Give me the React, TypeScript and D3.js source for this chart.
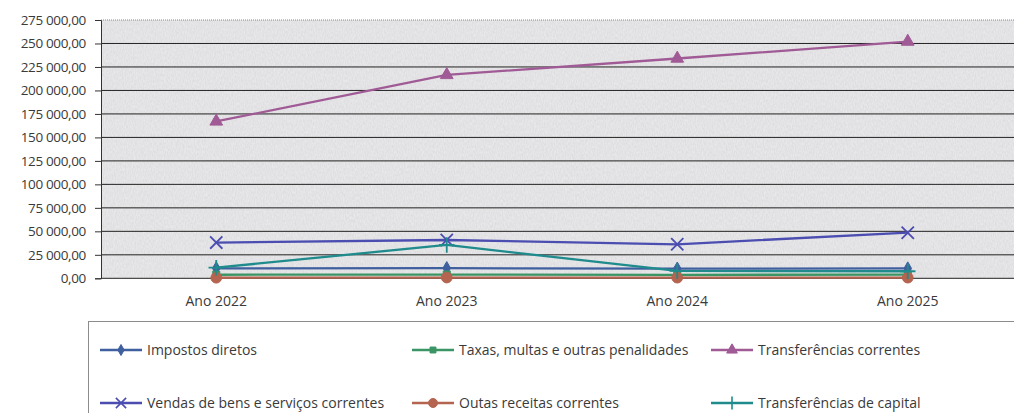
import React, { useEffect, useRef } from 'react';
import * as d3 from 'd3';

const years = ['Ano 2022', 'Ano 2023', 'Ano 2024', 'Ano 2025'];

const seriesNames = [
  'Impostos diretos',
  'Taxas, multas e outras penalidades',
  'Transferências correntes',
  'Vendas de bens e serviços correntes',
  'Outas receitas correntes',
  'Transferências de capital',
];

const impostosDiretos = [10600, 10800, 10300, 10500];
const taxasMultas = [3800, 4000, 3700, 3900];
const transferenciasCorrentes = [167000, 216500, 234000, 252000];
const vendasBens = [38000, 40800, 36200, 48600];
const outrasReceitas = [600, 800, 700, 700];
const transferenciasCapital = [11300, 35500, 7800, 7500];

const yTicks = [0, 25000, 50000, 75000, 100000, 125000, 150000, 175000, 200000, 225000, 250000, 275000];

const colors = ['#3f5f9e', '#3a9464', '#a05a95', '#4b4db0', '#b5644f', '#1f8b8c'];
const markers = ['diamond', 'square', 'triangle', 'x', 'circle', 'plus'];

const fmt = (v: number) => {
  const s = d3.format(',.2f')(v);
  return s.replace(/,/g, ' ').replace('.', ',');
};

const App: React.FC = () => {
  const ref = useRef<SVGSVGElement>(null);

  useEffect(() => {
    const svg = d3.select(ref.current);
    svg.selectAll('*').remove();

    const values = [
      impostosDiretos,
      taxasMultas,
      transferenciasCorrentes,
      vendasBens,
      outrasReceitas,
      transferenciasCapital,
    ];

    const left = 101;
    const right = 1023;
    const top = 20;
    const bottom = 278.3;

    const x = d3.scalePoint<string>().domain(years).range([left, right]).padding(0.5);
    const y = d3.scaleLinear().domain([0, 275000]).range([bottom, top]);

    // textured plot background
    const defs = svg.append('defs');
    const f = defs.append('filter').attr('id', 'grain').attr('x', 0).attr('y', 0).attr('width', 1).attr('height', 1);
    f.append('feTurbulence').attr('type', 'fractalNoise').attr('baseFrequency', '0.9 0.35').attr('numOctaves', 2).attr('seed', 3);
    f.append('feColorMatrix').attr('type', 'matrix').attr('values', '0 0 0 0 0.55  0 0 0 0 0.55  0 0 0 0 0.57  0 0 0 -1.1 0.95');
    f.append('feComposite').attr('in2', 'SourceGraphic').attr('operator', 'in');

    svg.append('rect').attr('x', left).attr('y', top).attr('width', right - left).attr('height', bottom - top).attr('fill', '#eaeaec');
    svg.append('rect').attr('x', left).attr('y', top).attr('width', right - left).attr('height', bottom - top).attr('fill', '#fff').attr('filter', 'url(#grain)').attr('opacity', 0.45);

    // grid lines
    svg.append('g').selectAll('line').data(yTicks).join('line')
      .attr('x1', left).attr('x2', right)
      .attr('y1', (d) => y(d)).attr('y2', (d) => y(d))
      .attr('stroke', (d) => (d === 275000 ? '#8a8a8a' : '#222'))
      .attr('stroke-width', 1)
      .attr('stroke-dasharray', (d) => (d === 275000 ? '1 1' : null));

    // y axis
    const yAxis = svg.append('g').attr('transform', `translate(${left},0)`)
      .call(d3.axisLeft(y).tickValues(yTicks).tickFormat((d) => fmt(d as number)).tickSize(6).tickPadding(9));
    yAxis.select('.domain').attr('stroke', '#333');
    yAxis.selectAll('line').attr('stroke', '#333');
    yAxis.selectAll('text').attr('fill', '#3a3a3a')
      .style('font-size', '13.5px').style('letter-spacing', '-0.35px')
      .style('font-family', '"Open Sans", sans-serif');

    // x labels
    svg.append('g').selectAll('text').data(years).join('text')
      .attr('x', (d) => x(d) as number).attr('y', 306)
      .attr('text-anchor', 'middle')
      .attr('fill', '#3a3a3a')
      .style('font-size', '14px').style('font-family', '"Open Sans", sans-serif')
      .text((d) => d);

    const symbolFor = (m: string, s = 1) => {
      switch (m) {
        case 'diamond': return d3.symbol(d3.symbolDiamond, 50 * s)();
        case 'square': return d3.symbol(d3.symbolSquare, 50 * s)();
        case 'triangle': return d3.symbol(d3.symbolTriangle, 70 * s)();
        case 'x': return d3.symbol(d3.symbolX, 100 * s)();
        case 'circle': return d3.symbol(d3.symbolCircle, 90 * s)();
        default: return d3.symbol(d3.symbolPlus, 80 * s)();
      }
    };
    const isStroke = (m: string) => m === 'x' || m === 'plus';

    const line = d3.line<number>().x((_, i) => x(years[i]) as number).y((d) => y(d));

    values.forEach((vals, si) => {
      const g = svg.append('g');
      g.append('path').datum(vals).attr('d', line).attr('fill', 'none')
        .attr('stroke', colors[si]).attr('stroke-width', 2.3).attr('stroke-linejoin', 'round');
      g.selectAll('path.m').data(vals).join('path').attr('class', 'm')
        .attr('transform', (d, i) => `translate(${x(years[i])},${y(d)})`)
        .attr('d', symbolFor(markers[si]))
        .attr('fill', isStroke(markers[si]) ? 'none' : colors[si])
        .attr('stroke', colors[si])
        .attr('stroke-width', isStroke(markers[si]) ? 1.8 : 1);
    });

    // legend
    svg.append('rect').attr('x', 88.5).attr('y', 321.5).attr('width', 960).attr('height', 120)
      .attr('fill', '#fff').attr('stroke', '#8c8c8c');

    const colX = [100, 412, 711];
    const rowY = [350, 403];
    seriesNames.forEach((name, i) => {
      const cx = colX[i % 3];
      const cy = rowY[Math.floor(i / 3)];
      const g = svg.append('g').attr('transform', `translate(${cx},${cy})`);
      g.append('line').attr('x1', 0).attr('x2', 42).attr('y1', 0).attr('y2', 0)
        .attr('stroke', colors[i]).attr('stroke-width', 2.3);
      g.append('path').attr('transform', 'translate(21,0)').attr('d', symbolFor(markers[i], 0.7))
        .attr('fill', isStroke(markers[i]) ? 'none' : colors[i])
        .attr('stroke', colors[i]).attr('stroke-width', isStroke(markers[i]) ? 1.6 : 1);
      g.append('text').attr('x', 47).attr('y', 5).attr('fill', '#3a3a3a')
        .style('font-size', '14px').style('font-family', '"Open Sans", sans-serif')
        .text(name);
    });
  }, []);

  return (
    <svg
      ref={ref}
      width={1014}
      height={413}
      style={{ position: 'absolute', left: 0, top: 0, background: '#fff' }}
    />
  );
};

export default App;
